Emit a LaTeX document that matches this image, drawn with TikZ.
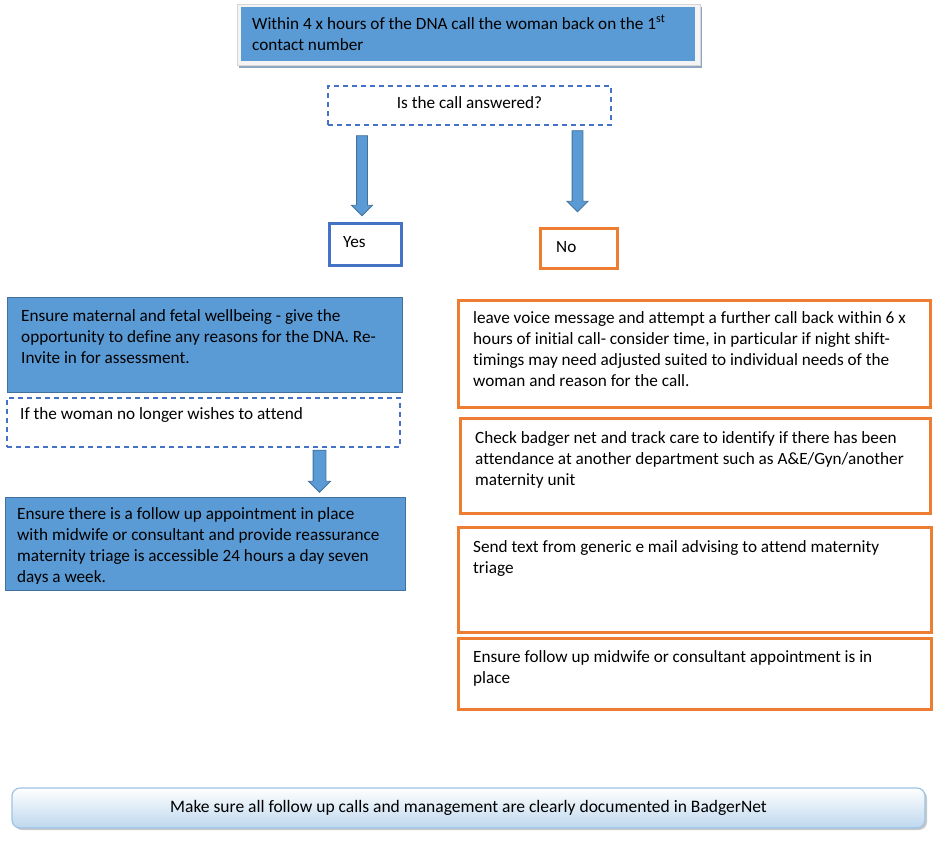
\documentclass[tikz,border=0pt]{standalone}
\usepackage{fontspec}
\setmainfont{Carlito}[Ligatures=NoCommon]
\usetikzlibrary{shapes.arrows,shadows}
\definecolor{bfill}{HTML}{5B9BD5}
\definecolor{bline}{HTML}{41719C}
\definecolor{dblue}{HTML}{4472C4}
\definecolor{orng}{HTML}{ED7D31}
\definecolor{barBot}{HTML}{BDD7EE}
\definecolor{barLine}{HTML}{9DC3E6}
\definecolor{frameFill}{HTML}{F4F4F4}
\definecolor{frameLine}{HTML}{D6D6D6}
\definecolor{shadowCol}{HTML}{8FA6C2}
\newcommand\fs{\fontsize{17.2}{21}\selectfont}
\newcommand\bx[6]{\node[#2, minimum width={#5-#3}, minimum height={#6-#4}] (#1) at ({(#3+#5)/2},{(#4+#6)/2}) {};}
\tikzset{
  txt/.style={anchor=north west, inner sep=0pt, align=left, font=\fs},
  txtone/.style={anchor=base west, inner sep=0pt, font=\fs},
  bluebox/.style={rectangle, fill=bfill, draw=bline, line width=0.8pt, inner sep=0pt},
  dashbox/.style={rectangle, draw=dblue, line width=1.2pt, dash pattern=on 5pt off 4pt, inner sep=0pt},
  orbox/.style={rectangle, draw=orng, line width=3pt, inner sep=0pt},
  yesbox/.style={rectangle, draw=dblue, line width=3pt, inner sep=0pt},
  framebox/.style={rectangle, fill=frameFill, draw=frameLine, line width=0.8pt, inner sep=0pt,
    drop shadow={shadow xshift=2pt, shadow yshift=-3pt, fill=shadowCol, opacity=1}},
  topbox/.style={rectangle, fill=bfill, inner sep=0pt},
  barbox/.style={rectangle, rounded corners=8pt, top color=white, bottom color=barBot, draw=barLine, line width=1.2pt, inner sep=0pt,
    drop shadow={shadow xshift=2pt, shadow yshift=-2pt, fill=black!35, opacity=0.6}},
  blockarrow/.style={single arrow, fill=bfill, draw=bline, line width=0.8pt, rotate=-90,
    single arrow head extend=5pt, inner sep=5pt, outer sep=0pt},
}
\begin{document}
\begin{tikzpicture}[x=1pt,y=-1pt]
\useasboundingbox (0,0) rectangle (936,843);
% top box
\bx{topframe}{framebox}{237}{4}{700}{65}
\bx{top}{topbox}{241}{7}{695}{61}
\node[txt] (toptext) at (252,14.3) {\strut Within 4 x hours of the DNA call the woman back on the 1\textsuperscript{st}\\contact number};
% question
\bx{q}{dashbox}{328}{86}{611}{125}
\node[anchor=base, inner sep=0pt, font=\fs] (qtext) at (469.5,108) {Is the call answered?};
% arrows
\node[blockarrow, minimum height=80pt] (a1) at (362,173) {};
\node[blockarrow, minimum height=81pt] (a2) at (577.5,168.5) {};
% yes / no
\bx{yes}{yesbox}{329}{223}{401}{265}
\node[txtone] (yestext) at (343,247) {Yes};
\bx{no}{orbox}{540}{228}{617}{268}
\node[txtone] (notext) at (556,252) {No};
% left column
\bx{l1}{bluebox}{7}{297}{402}{392}
\node[txt] (l1text) at (21,306.3) {\strut Ensure maternal and fetal wellbeing - give the\\opportunity to define any reasons for the DNA. Re-\\Invite in for assessment.};
\bx{l2}{dashbox}{7}{398}{400}{447}
\node[txtone] (l2text) at (20,419) {If the woman no longer wishes to attend};
\node[blockarrow, minimum height=42pt, inner sep=6pt, single arrow head extend=4.5pt] (a3) at (319.5,468) {};
\bx{l3}{bluebox}{5}{497}{405}{590}
\begin{scope}
\clip (6,498) rectangle (404,583.5);
\node[txt] (l3text) at (17,504.3) {\strut Ensure there is a follow up appointment in place\\with midwife or consultant and provide reassurance\\maternity triage is accessible 24 hours a day seven\\days a week.};
\end{scope}
% right column
\bx{r1}{orbox}{458}{300}{930}{407}
\node[txt] (r1text) at (473,308.3) {\strut leave voice message and attempt a further call back within 6 x\\hours of initial call- consider time, in particular if night shift-\\timings may need adjusted suited to individual needs of the\\woman and reason for the call.};
\bx{r2}{orbox}{460}{418}{930}{513}
\node[txt] (r2text) at (475,428.3) {\strut Check badger net and track care to identify if there has been\\attendance at another department such as A\&E/Gyn/another\\maternity unit};
\bx{r3}{orbox}{458}{527}{931}{632}
\node[txt] (r3text) at (473,537.3) {\strut Send text from generic e mail advising to attend maternity\\triage};
\bx{r4}{orbox}{458}{638}{931}{709}
\node[txt] (r4text) at (473,647.3) {\strut Ensure follow up midwife or consultant appointment is in\\place};
% bottom bar
\bx{bar}{barbox}{12}{788}{925}{828}
\node[anchor=base, inner sep=0pt, font=\fontsize{17.5}{21}\selectfont] (bartext) at (468.5,812) {Make sure all follow up calls and management are clearly documented in BadgerNet};
\end{tikzpicture}
\end{document}
